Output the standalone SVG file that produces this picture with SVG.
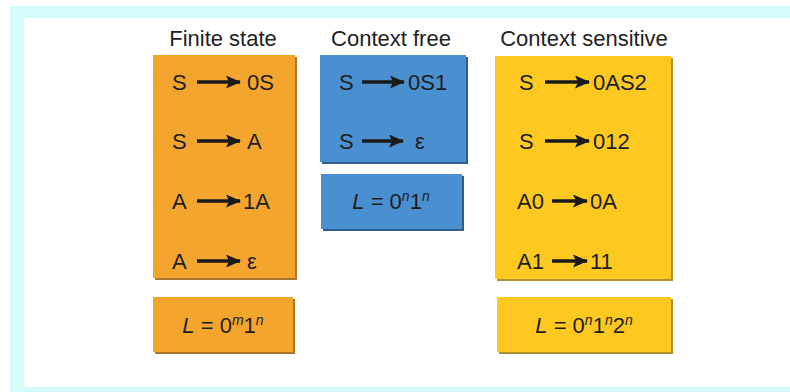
<svg xmlns="http://www.w3.org/2000/svg" width="790" height="392" viewBox="0 0 790 392">
<defs>
<marker id="ah" markerUnits="userSpaceOnUse" markerWidth="16" markerHeight="14" refX="14" refY="6.5" orient="auto">
<path d="M0,0 L15,6.5 L0,13 L3,6.5 z" fill="#1a1a1a"/>
</marker>
<style>
.t{font-family:"Liberation Sans",Arial,sans-serif;font-size:22px;fill:#1e1e1e}
.h{font-family:"Liberation Sans",Arial,sans-serif;font-size:22px;fill:#222}
.i{font-style:italic}
.sup{font-size:14px;font-style:italic}
.ar{stroke:#1a1a1a;stroke-width:3.5;marker-end:url(#ah)}
.o{fill:#F4A52E}.os{fill:#A9772E}
.b{fill:#4A8FCF}.bs{fill:#2E5F8C}
.y{fill:#FDC921}.ys{fill:#AE9030}
</style>
</defs>
<rect x="10" y="6" width="780" height="386" fill="#D4FCFD"/>
<rect x="24" y="18" width="766" height="369" fill="#ffffff"/>
<g id="titles">
<text class="h" x="223" y="46" text-anchor="middle">Finite state</text>
<text class="h" x="391" y="46" text-anchor="middle">Context free</text>
<text class="h" x="584" y="46" text-anchor="middle">Context sensitive</text>
</g>
<g id="finite-rules">
<rect class="os" x="155" y="57" width="142" height="223"/>
<rect class="o" x="153" y="55" width="142" height="223"/>
<text class="t" x="172" y="90">S</text><line class="ar" x1="197" y1="82" x2="240" y2="82"/><text class="t" x="247" y="90">0S</text>
<text class="t" x="172" y="149">S</text><line class="ar" x1="197" y1="141" x2="240" y2="141"/><text class="t" x="247" y="149">A</text>
<text class="t" x="172" y="209">A</text><line class="ar" x1="197" y1="201" x2="240" y2="201"/><text class="t" x="243" y="209">1A</text>
<text class="t" x="172" y="269">A</text><line class="ar" x1="197" y1="261" x2="240" y2="261"/><text class="t" x="247" y="269">ε</text>
</g>
<g id="finite-language">
<rect class="os" x="155" y="299" width="140" height="55"/>
<rect class="o" x="153" y="297" width="140" height="55"/>
<text class="t" x="223" y="333" text-anchor="middle"><tspan class="i">L</tspan> = 0<tspan class="sup" dy="-8">m</tspan><tspan dy="8">1</tspan><tspan class="sup" dy="-8">n</tspan></text>
</g>
<g id="free-rules">
<rect class="bs" x="322" y="57" width="146" height="107"/>
<rect class="b" x="320" y="55" width="146" height="107"/>
<text class="t" x="339" y="90">S</text><line class="ar" x1="362" y1="82" x2="404" y2="82"/><text class="t" x="408" y="90">0S1</text>
<text class="t" x="339" y="149">S</text><line class="ar" x1="362" y1="141" x2="403" y2="141"/><text class="t" x="415" y="149">ε</text>
</g>
<g id="free-language">
<rect class="bs" x="323" y="176" width="141" height="55"/>
<rect class="b" x="321" y="174" width="141" height="55"/>
<text class="t" x="391" y="209" text-anchor="middle"><tspan class="i">L</tspan> = 0<tspan class="sup" dy="-8">n</tspan><tspan dy="8">1</tspan><tspan class="sup" dy="-8">n</tspan></text>
</g>
<g id="sensitive-rules">
<rect class="ys" x="497" y="58" width="176" height="223"/>
<rect class="y" x="495" y="56" width="176" height="223"/>
<text class="t" x="519" y="90">S</text><line class="ar" x1="545" y1="82" x2="589" y2="82"/><text class="t" x="593" y="90">0AS2</text>
<text class="t" x="519" y="149">S</text><line class="ar" x1="545" y1="141" x2="589" y2="141"/><text class="t" x="593" y="149">012</text>
<text class="t" x="517" y="209">A0</text><line class="ar" x1="552" y1="201" x2="587" y2="201"/><text class="t" x="590" y="209">0A</text>
<text class="t" x="517" y="269">A1</text><line class="ar" x1="552" y1="261" x2="587" y2="261"/><text class="t" x="590" y="269">11</text>
</g>
<g id="sensitive-language">
<rect class="ys" x="499" y="299" width="174" height="55"/>
<rect class="y" x="497" y="297" width="174" height="55"/>
<text class="t" x="584" y="333" text-anchor="middle"><tspan class="i">L</tspan> = 0<tspan class="sup" dy="-8">n</tspan><tspan dy="8">1</tspan><tspan class="sup" dy="-8">n</tspan><tspan dy="8">2</tspan><tspan class="sup" dy="-8">n</tspan></text>
</g>
<g id="connectors"/>
</svg>
